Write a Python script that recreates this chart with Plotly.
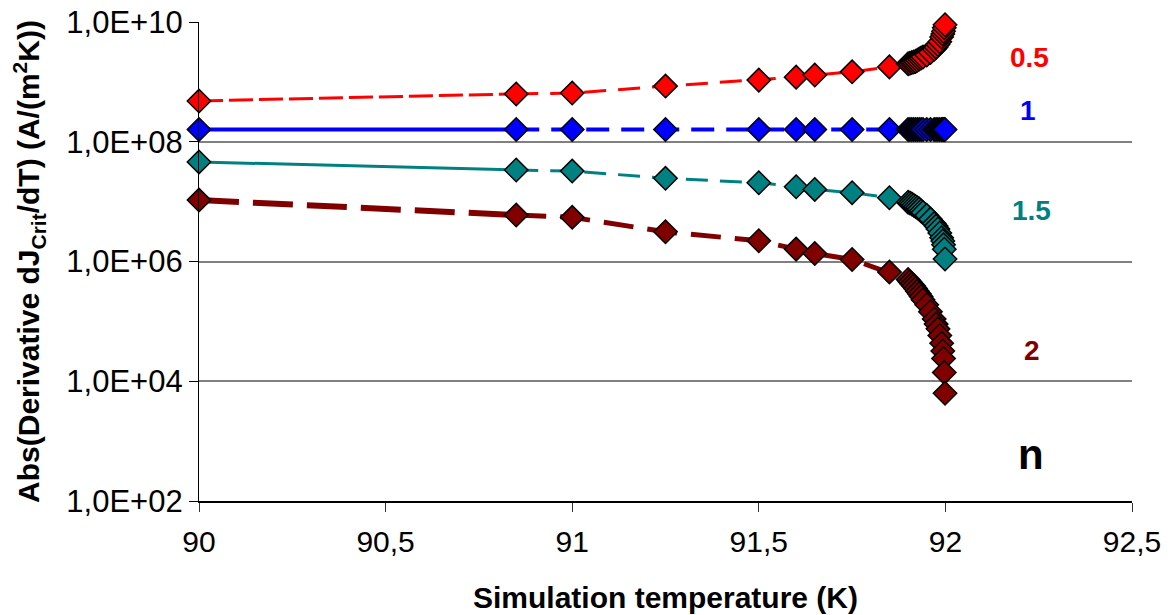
import plotly.graph_objects as go

# Simulation temperatures (K), shared by every series
temps = [90.0, 90.85, 91.0, 91.25, 91.5, 91.6, 91.65, 91.75, 91.85,
         91.9, 91.905, 91.91, 91.915, 91.92, 91.925, 91.93, 91.935, 91.94,
         91.95, 91.96, 91.97, 91.975, 91.98, 91.985, 91.99, 91.993, 91.995,
         91.997, 91.999]

# |dJcrit/dT| in A/(m^2 K) for each exponent n
deriv_n05 = [4.8e8, 6.3e8, 6.5e8, 8.5e8, 1.07e9, 1.2e9, 1.3e9, 1.47e9, 1.78e9,
             2.0e9, 2.05e9, 2.1e9, 2.15e9, 2.2e9, 2.3e9, 2.4e9, 2.5e9, 2.6e9,
             2.8e9, 3.1e9, 3.5e9, 3.8e9, 4.2e9, 4.7e9, 5.6e9, 6.3e9, 7.0e9,
             8.0e9, 9.0e9]
# the n = 0.5 curve diverges at Tc and leaves the plot
tc_temp = 92.0
tc_deriv_n05 = 3.0e10

deriv_n1 = [1.6e8] * len(temps)

deriv_n15 = [4.6e7, 3.37e7, 3.24e7, 2.45e7, 2.07e7, 1.77e7, 1.6e7, 1.41e7, 1.16e7,
             9.8e6, 9.5e6, 9.1e6, 8.7e6, 8.3e6, 7.9e6, 7.5e6, 7.0e6, 6.6e6,
             5.9e6, 5.1e6, 4.3e6, 3.9e6, 3.5e6, 3.0e6, 2.5e6, 2.2e6, 1.9e6,
             1.6e6, 1.1e6]

deriv_n2 = [1.06e7, 5.96e6, 5.46e6, 3.13e6, 2.22e6, 1.61e6, 1.36e6, 1.08e6, 6.65e5,
            5.0e5, 4.6e5, 4.2e5, 3.9e5, 3.55e5, 3.2e5, 2.9e5, 2.6e5, 2.3e5,
            1.9e5, 1.45e5, 1.1e5, 9.0e4, 7.5e4, 5.8e4, 4.3e4, 3.2e4, 2.4e4,
            1.4e4, 6.3e3]

n_labels = ["0.5", "1", "1.5", "2"]
n_label_y = [9.4, 8.53, 6.86, 4.52]   # log10 positions of the curve labels

x_tickvals = [90, 90.5, 91, 91.5, 92, 92.5]
x_ticktext = ["90", "90,5", "91", "91,5", "92", "92,5"]
y_tickvals = [1e2, 1e4, 1e6, 1e8, 1e10]
y_ticktext = ["1,0E+02", "1,0E+04", "1,0E+06", "1,0E+08", "1,0E+10"]

RED, BLUE, TEAL, BROWN = "#FF0000", "#0000FF", "#008080", "#800000"
FONT = "Liberation Sans, Arial, sans-serif"

fig = go.Figure()

# (values, colour, first-segment style, rest style)
series = [
    (deriv_n2, BROWN, dict(width=6, dash="40px,14px"), dict(width=5, dash="30px,14px")),
    (deriv_n15, TEAL, dict(width=3, dash="solid"), dict(width=3, dash="22px,12px")),
    (deriv_n1, BLUE, dict(width=4, dash="solid"), dict(width=4, dash="23px,12px")),
    (deriv_n05, RED, dict(width=3, dash="24px,6px"), dict(width=3, dash="22px,12px")),
]

for vals, col, first_style, rest_style in series:
    fig.add_trace(go.Scatter(x=temps[:2], y=vals[:2], mode="lines",
                             line=dict(color=col, **first_style),
                             showlegend=False, hoverinfo="skip"))
    xs, ys = temps[1:], vals[1:]
    if vals is deriv_n05:
        xs = xs + [tc_temp]
        ys = ys + [tc_deriv_n05]
    fig.add_trace(go.Scatter(x=xs, y=ys, mode="lines",
                             line=dict(color=col, **rest_style),
                             showlegend=False, hoverinfo="skip"))

for vals, col, _, _ in series:
    fig.add_trace(go.Scatter(x=temps, y=vals, mode="markers", cliponaxis=False,
                             marker=dict(symbol="diamond", size=18, color=col,
                                         line=dict(color="black", width=1.5)),
                             showlegend=False))

label_colors = [RED, BLUE, TEAL, BROWN]
label_x = [92.225, 92.222, 92.23, 92.233]
for txt, yy, xx, col in zip(n_labels, n_label_y, label_x, label_colors):
    fig.add_annotation(x=xx, y=yy, xref="x", yref="y", text=f"<b>{txt}</b>",
                       showarrow=False, font=dict(family=FONT, size=28, color=col))
fig.add_annotation(x=92.23, y=2.77, xref="x", yref="y", text="<b>n</b>",
                   showarrow=False, font=dict(family=FONT, size=42, color="black"))

fig.update_xaxes(range=[90, 92.5], tickvals=x_tickvals, ticktext=x_ticktext,
                 automargin=False, showgrid=False, zeroline=False,
                 showline=True, linecolor="black", linewidth=1.5,
                 ticks="outside", ticklen=9, tickcolor="#333333", tickwidth=1,
                 ticklabelstandoff=4,
                 tickfont=dict(family=FONT, size=30, color="black"),
                 title=dict(text="<b>Simulation temperature (K)</b>", standoff=30,
                            font=dict(family=FONT, size=30, color="black")))
fig.update_yaxes(type="log", range=[2, 10], tickvals=y_tickvals, ticktext=y_ticktext,
                 automargin=False, showgrid=True, gridcolor="#808080", gridwidth=1.5,
                 zeroline=False, showline=True, linecolor="black", linewidth=1.2,
                 ticks="outside", ticklen=9, tickcolor="black", tickwidth=1,
                 tickfont=dict(family=FONT, size=31, color="black"),
                 title=dict(text="<b>Abs(Derivative dJ<sub>Crit</sub>/dT) (A/(m<sup>2</sup>K))</b>",
                            standoff=17,
                            font=dict(family=FONT, size=30, color="black")))

fig.update_layout(width=1171, height=615,
                  margin=dict(l=199, r=39, t=22, b=114, autoexpand=False),
                  paper_bgcolor="white", plot_bgcolor="white",
                  showlegend=False)

fig.write_html("out.html")
